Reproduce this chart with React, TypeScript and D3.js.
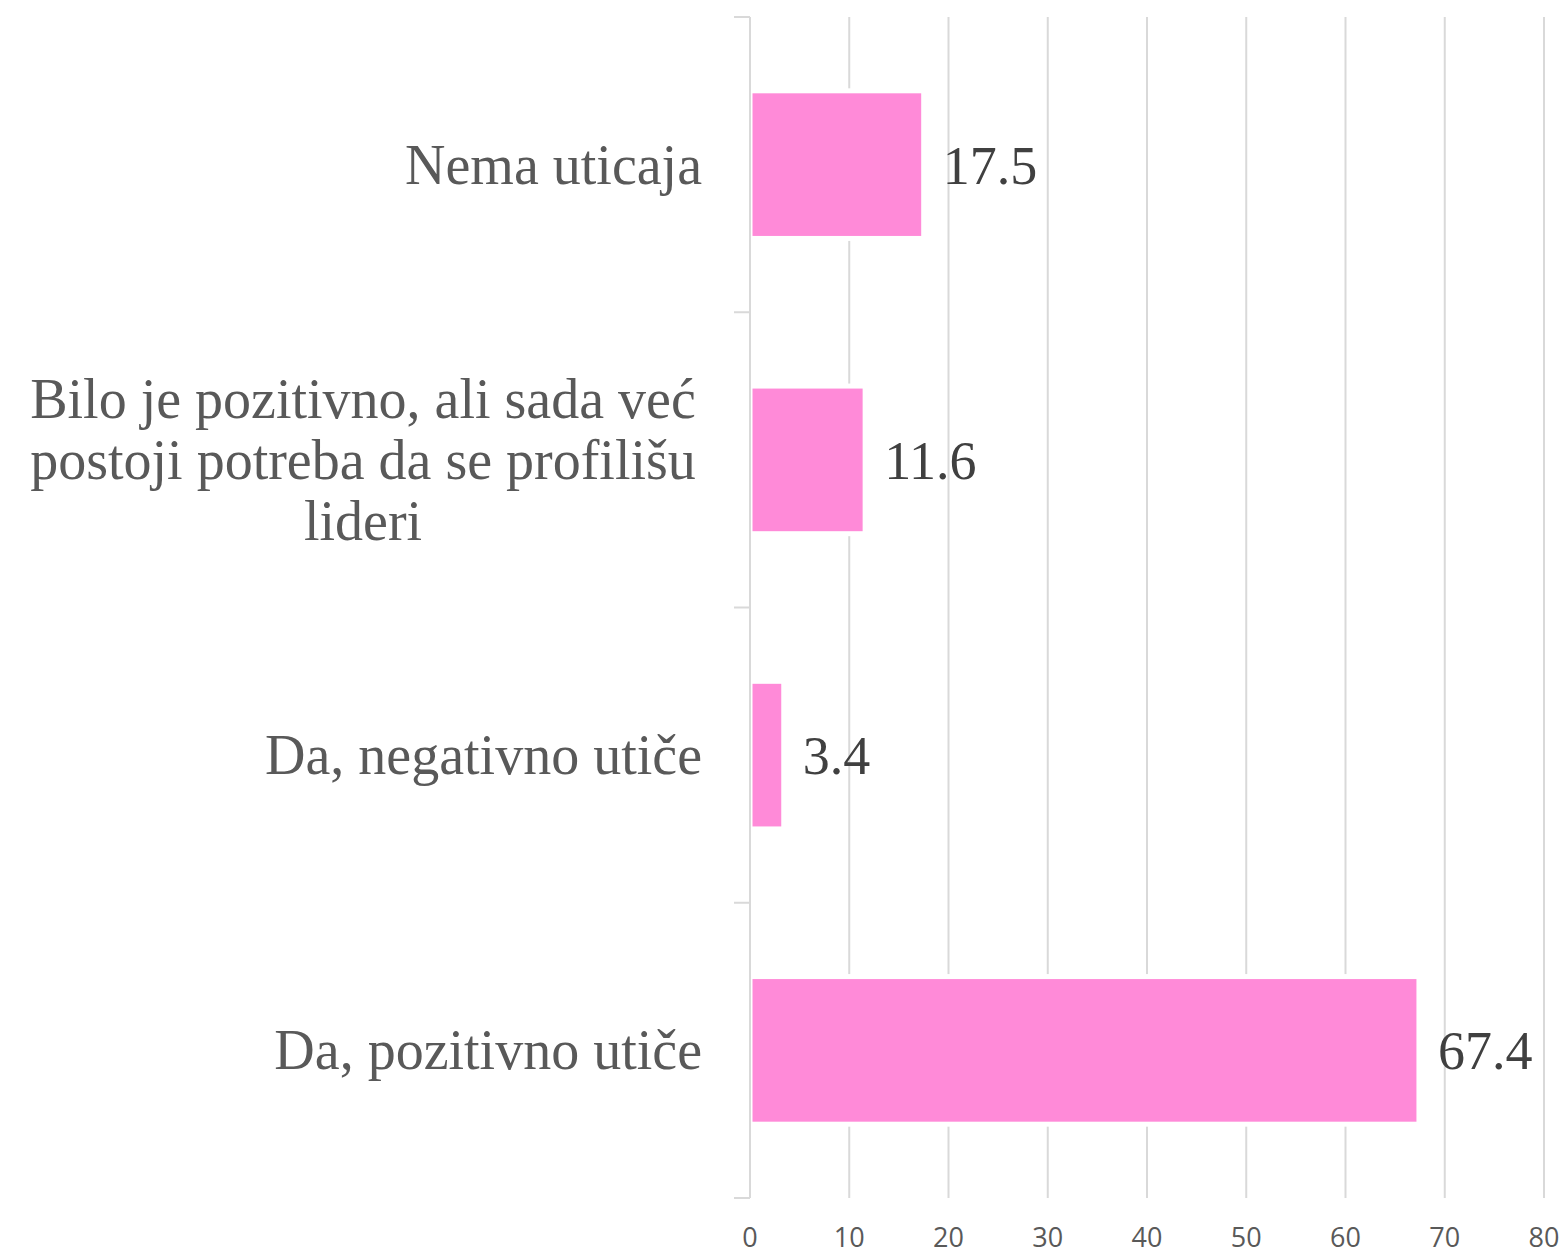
import { scaleBand, scaleLinear } from 'd3'

const width = 1564
const height = 1256

const categories = ['Nema uticaja', 'Bilo je pozitivno', 'Da, negativno utiče', 'Da, pozitivno utiče']
const labelLines = [
  ['Nema uticaja'],
  ['Bilo je pozitivno, ali sada već', 'postoji potreba da se profilišu', 'lideri'],
  ['Da, negativno utiče'],
  ['Da, pozitivno utiče']
]
const values = [17.5, 11.6, 3.4, 67.4]
const ticks = [0, 10, 20, 30, 40, 50, 60, 70, 80]

const gridColor = '#d9d9d9'
const barColor = '#ff8ad8'
const serif = '"Liberation Serif", "DejaVu Serif", serif'

function App() {
  const top = 17
  const bottom = 1198
  const xScale = scaleLinear().domain([0, 80]).range([750, 1544])
  const yScale = scaleBand().domain(categories).range([top, bottom]).paddingInner(0.5).paddingOuter(0.25)
  const step = yScale.step()
  const x0 = xScale(0)

  return (
    <svg width={width} height={height} style={{ display: 'block', position: 'absolute', left: 0, top: 0 }}>
      {ticks.slice(1).map(t => (
        <line key={t} x1={xScale(t)} x2={xScale(t)} y1={top} y2={bottom} stroke={gridColor} strokeWidth={2} />
      ))}
      {categories.map((c, i) => (
        <rect
          key={c}
          x={x0}
          y={yScale(c)}
          width={xScale(values[i]) - x0}
          height={yScale.bandwidth()}
          fill={barColor}
          stroke="white"
          strokeWidth={5}
        />
      ))}
      <line x1={x0} x2={x0} y1={top} y2={bottom} stroke={gridColor} strokeWidth={2} />
      {[0, 1, 2, 3, 4].map(i => (
        <line key={i} x1={x0 - 16} x2={x0} y1={top + i * step} y2={top + i * step} stroke={gridColor} strokeWidth={2} />
      ))}
      {ticks.map(t => (
        <text
          key={t}
          x={xScale(t)}
          y={1247}
          textAnchor="middle"
          fill="#595959"
          style={{ fontFamily: '"Liberation Sans Narrow", "Open Sans", sans-serif', fontSize: 27 }}
        >{t}</text>
      ))}
      {categories.map((c, i) => {
        const cy = (yScale(c) ?? 0) + yScale.bandwidth() / 2
        const lines = labelLines[i]
        const lh = 61
        const multi = lines.length > 1
        return (
          <text
            key={c}
            fill="#595959"
            textAnchor={multi ? 'middle' : 'end'}
            style={{ fontFamily: serif, fontSize: 56 }}
          >
            {lines.map((l, j) => (
              <tspan key={j} x={multi ? 363 : 702} y={cy + 19 + (j - (lines.length - 1) / 2) * lh}>{l}</tspan>
            ))}
          </text>
        )
      })}
      {categories.map((c, i) => (
        <text
          key={c}
          x={xScale(values[i]) + 19}
          y={(yScale(c) ?? 0) + yScale.bandwidth() / 2 + 19}
          fill="#404040"
          style={{ fontFamily: serif, fontSize: 54 }}
        >{values[i].toFixed(1)}</text>
      ))}
    </svg>
  )
}

export default App
